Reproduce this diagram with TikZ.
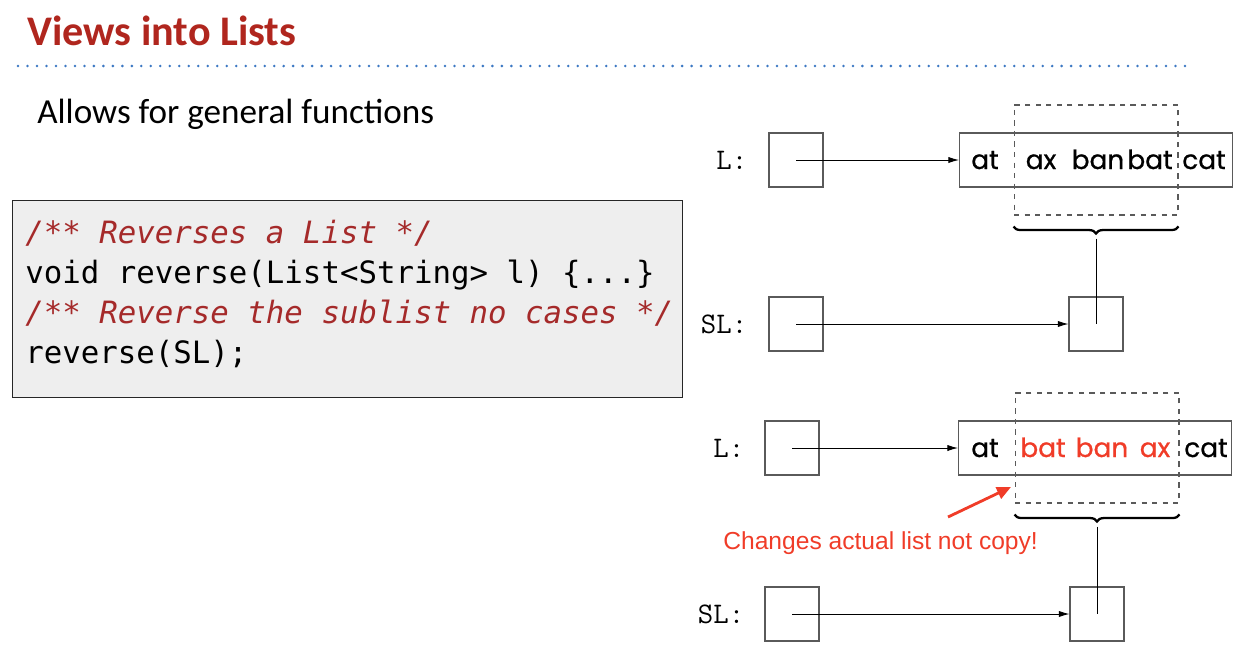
\documentclass[tikz,border=0pt]{standalone}
\usepackage{fontspec}
\setmainfont{Carlito}
\newfontfamily\codefont[ItalicFont={DejaVu Sans Mono Oblique}]{DejaVu Sans Mono}
\newfontfamily\wordfont[FakeBold=0.8]{Poppins}
\newfontfamily\notefont{Liberation Sans}
\usetikzlibrary{positioning,arrows.meta,decorations.pathreplacing}
\definecolor{titlered}{RGB}{176,38,30}
\definecolor{rulerblue}{RGB}{60,120,195}
\definecolor{commentred}{RGB}{165,42,42}
\definecolor{notered}{RGB}{240,60,40}
\definecolor{boxgray}{RGB}{90,90,90}
\definecolor{codegray}{RGB}{238,238,238}

\begin{document}
\begin{tikzpicture}[x=0.02cm, y=-0.02cm,
    cell/.style={draw=boxgray, line width=0.6pt, minimum size=1.08cm, inner sep=0pt},
    listbox/.style={draw=boxgray, line width=0.6pt, minimum width=5.46cm, minimum height=1.08cm, inner sep=0pt},
    view/.style={draw=boxgray, dashed, line width=0.6pt, minimum width=3.28cm, minimum height=2.2cm, inner sep=0pt},
    word/.style={font=\wordfont\fontsize{15}{18}\selectfont, inner sep=0pt, anchor=base},
    varname/.style={font=\ttfamily\fontsize{17}{19}\selectfont, inner sep=0pt},
    codeline/.style={font=\codefont\fontsize{17.5}{21}\selectfont, inner sep=0pt, anchor=base west},
    comment/.style={codeline, font=\codefont\itshape\fontsize{17.5}{21}\selectfont, text=commentred},
    ptr/.style={-{Latex[length=6pt,width=3.5pt]}, line width=0.5pt},
    brace/.style={decorate, decoration={brace, mirror, amplitude=4pt}, line width=1.3pt}]

    \useasboundingbox (0,0) rectangle (1250,656);

    % === Heading ===
    \node[anchor=base west, inner sep=0pt, font=\bfseries\fontsize{24}{28}\selectfont, text=titlered] (title) at (27,45) {Views into Lists};
    \draw[rulerblue, line width=1.6pt, line cap=round, dash pattern=on 0pt off 5.4pt] (18,66) -- (1190,66);
    \node[anchor=base west, inner sep=0pt, font=\fontsize{20}{24}\selectfont] (intro) at (37,123) {Allows for general functions};

    % === Code box ===
    \node[draw=black!85, fill=codegray, line width=0.8pt, minimum width=13.4cm, minimum height=3.94cm, inner sep=0pt, anchor=north west] (code) at (12,200) {};
    \node[comment] (c1) at (25,243) {/** Reverses a List */};
    \node[codeline] (c2) at (25,283) {void reverse(List<String> l) \{...\}};
    \node[comment] (c3) at (25,323) {/** Reverse the sublist no cases */};
    \node[codeline] (c4) at (25,363) {reverse(SL);};

    % === Before: L and the view SL ===
    \node[cell] (l1) at (796,160) {};
    \node[varname, left=0.42cm of l1] (l1name) {L:};
    \node[listbox] (list1) at (1096,160) {};
    \node[word] (a1) at (985,169) {at};
    \node[word] (a2) at (1041,169) {ax};
    \node[word] (a3) at (1098,169) {ban};
    \node[word] (a4) at (1150,169) {bat};
    \node[word] (a5) at (1204,169) {cat};
    \node[view] (view1) at (1096,160) {};
    \node[cell] (sl1) at (796,324) {};
    \node[varname, left=0.42cm of sl1] (sl1name) {SL:};
    \node[cell] (sub1) at (1096,324) {};

    \draw[ptr] (l1.center) -- (list1.west);
    \draw[ptr] (sl1.center) -- (sub1.west);
    \draw[brace] ([yshift=-0.22cm]view1.south west) -- ([yshift=-0.22cm]view1.south east);
    \coordinate (tip1) at ([yshift=-0.46cm]view1.south);
    \draw[line width=0.5pt] (tip1) -- (sub1.center);

    % === After reverse(SL) ===
    \node[cell] (l2) at (792,448) {};
    \node[varname, left=0.4cm of l2] (l2name) {L:};
    \node[listbox] (list2) at (1095,448) {};
    \node[word] (b1) at (985,457) {at};
    \node[word, text=notered] (b2) at (1043,457) {bat};
    \node[word, text=notered] (b3) at (1102,457) {ban};
    \node[word, text=notered] (b4) at (1155,457) {ax};
    \node[word] (b5) at (1206,457) {cat};
    \node[view] (view2) at (1097,448) {};
    \node[cell] (sl2) at (792,614) {};
    \node[varname, left=0.4cm of sl2] (sl2name) {SL:};
    \node[cell] (sub2) at (1097,614) {};

    \draw[ptr] (l2.center) -- (list2.west);
    \draw[ptr] (sl2.center) -- (sub2.west);
    \draw[brace] ([yshift=-0.22cm]view2.south west) -- ([yshift=-0.22cm]view2.south east);
    \coordinate (tip2) at ([yshift=-0.46cm]view2.south);
    \draw[line width=0.5pt] (tip2) -- (sub2.center);

    % note on the changed list
    \node[anchor=base west, inner sep=0pt, font=\notefont\fontsize{14}{17}\selectfont, text=notered] (note) at (723,549) {Changes actual list not copy!};
    \coordinate (noteTail) at (948,517);
    \coordinate (noteHead) at (1011,487);
    \draw[notered, line width=1.6pt, -{Triangle[length=8pt,width=7pt]}] (noteTail) -- (noteHead);
\end{tikzpicture}
\end{document}
